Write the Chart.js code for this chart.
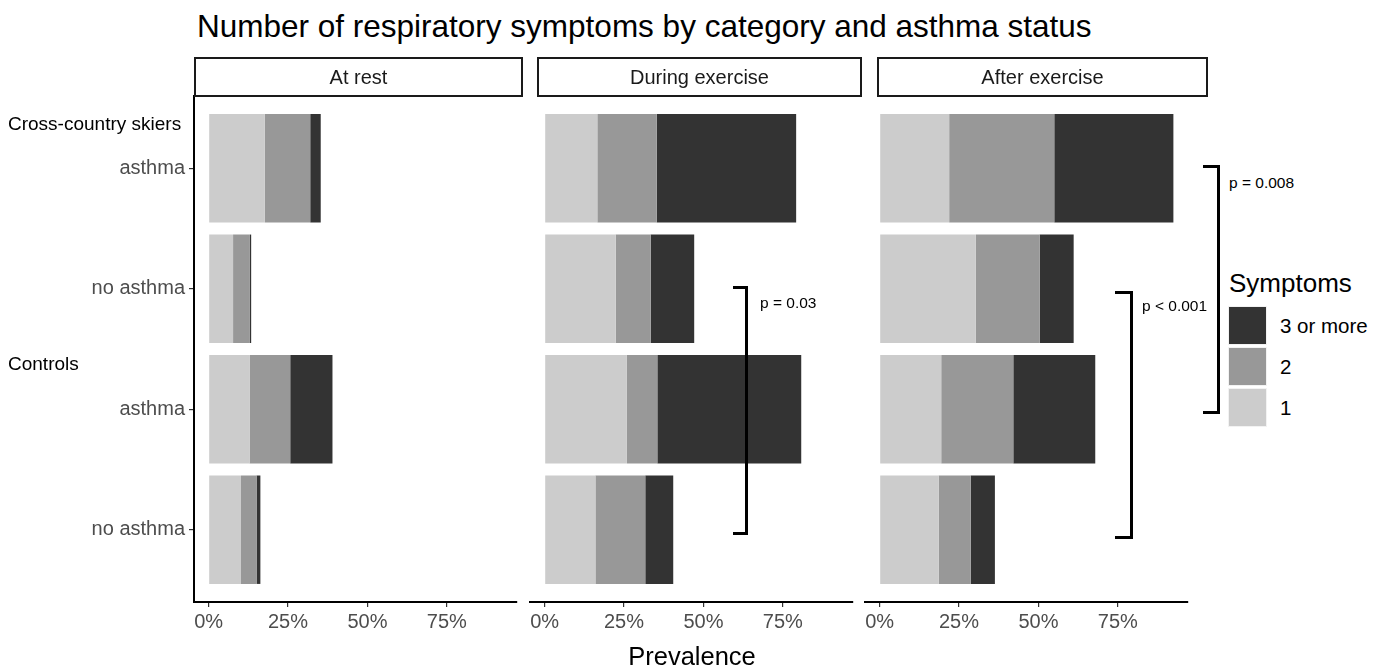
<!DOCTYPE html>
<html>
<head>
<meta charset="utf-8">
<script src="https://cdn.jsdelivr.net/npm/chart.js@4.4.1/dist/chart.umd.min.js"></script>
<style>
  body { margin: 0; background: #fff; font-family: "Liberation Sans", Arial, sans-serif; }
  #wrap { position: relative; width: 1386px; height: 668px; overflow: hidden; }
  canvas { position: absolute; }
  .txt { position: absolute; white-space: nowrap; line-height: 1; }
  .strip { position: absolute; box-sizing: border-box; border: 2px solid #1a1a1a; color: #1a1a1a;
           font-size: 20px; display: flex; align-items: center; justify-content: center; }
  .bracket { position: absolute; box-sizing: border-box; border: 3px solid #000; border-left: none; }
  .key { position: absolute; box-sizing: border-box; width: 39px; height: 39px; border: 1.5px solid #f2f2f2; }
</style>
</head>
<body>
<div id="wrap">
  <canvas id="c0"></canvas>
  <canvas id="c1"></canvas>
  <canvas id="c2"></canvas>
</div>
<script>
// facets, rows and legend levels
const panelTitles = ["At rest", "During exercise", "After exercise"];
const groupLabels = ["Cross-country skiers", "Controls"];
const rowLabels = ["asthma", "no asthma", "asthma", "no asthma"];
const symptomLevels = ["1", "2", "3 or more"];
const xTicks = [0, 25, 50, 75];

// prevalence (%) per row
const restOne = [17.7, 7.7, 12.9, 10.2];
const restTwo = [14.3, 5.3, 12.8, 4.9];
const restThree = [3.3, 0.4, 13.3, 1.2];

const duringOne = [16.6, 22.4, 25.9, 16.0];
const duringTwo = [18.7, 11.0, 9.6, 15.7];
const duringThree = [43.9, 13.7, 45.3, 8.8];

const afterOne = [21.9, 30.3, 19.4, 18.6];
const afterTwo = [33.1, 20.1, 22.7, 10.1];
const afterThree = [37.5, 10.7, 25.8, 7.6];

const pLabels = ["p = 0.03", "p < 0.001", "p = 0.008"];

const fills = ["#cccccc", "#989898", "#333333"];
const FONT = "'Liberation Sans', Arial, sans-serif";

const panelSeries = [
  [restOne, restTwo, restThree],
  [duringOne, duringTwo, duringThree],
  [afterOne, afterTwo, afterThree],
];

// canvas placement: chart areas end up at x 194/530/865, y 96..602
const canvasLeft = [0, 510, 845];
const canvasWidth = [530, 356, 356];
const CANVAS_TOP = 90;
const CANVAS_H = 552;

const wrap = document.getElementById("wrap");

function addText(text, left, centerY, size, color, extra) {
  const d = document.createElement("div");
  d.className = "txt";
  d.textContent = text;
  d.style.left = left + "px";
  d.style.top = (centerY - size * 0.5) + "px";
  d.style.fontSize = size + "px";
  d.style.color = color;
  if (extra) Object.assign(d.style, extra);
  wrap.appendChild(d);
  return d;
}

panelSeries.forEach((series, p) => {
  const showY = p === 0;
  const canvas = document.getElementById("c" + p);
  canvas.width = canvasWidth[p];
  canvas.height = CANVAS_H;
  canvas.style.left = canvasLeft[p] + "px";
  canvas.style.top = CANVAS_TOP + "px";

  new Chart(canvas.getContext("2d"), {
    type: "bar",
    data: {
      datasets: series.map((vals, i) => ({
        label: symptomLevels[i],
        data: vals.map((v, j) => ({ x: v, y: j + 1 })),
        backgroundColor: fills[i],
        borderWidth: 0,
        categoryPercentage: 0.9,
        barPercentage: 1,
      })),
    },
    options: {
      indexAxis: "y",
      responsive: false,
      animation: false,
      layout: { padding: { left: showY ? 0 : 20, right: 13, top: 6, bottom: 0 } },
      plugins: { legend: { display: false }, tooltip: { enabled: false } },
      scales: {
        x: {
          type: "linear",
          stacked: true,
          min: -4.6,
          max: 97.1,
          afterBuildTicks: (s) => { s.ticks = xTicks.map((v) => ({ value: v })); },
          afterFit: (s) => { s.height = 40; s.paddingLeft = 0; s.paddingRight = 0; },
          ticks: {
            callback: (v) => v + "%",
            color: "#4d4d4d",
            font: { size: 20, family: FONT },
            padding: 3,
            maxRotation: 0,
            autoSkip: false,
          },
          grid: { drawOnChartArea: false, tickLength: 5, color: "#333333", lineWidth: 1.2 },
          border: { color: "#000", width: 2 },
        },
        y: {
          type: "linear",
          stacked: true,
          reverse: true,
          offset: false,
          min: 0.4,
          max: 4.6,
          display: showY,
          afterBuildTicks: (s) => { s.ticks = rowLabels.map((_, i) => ({ value: i + 1 })); },
          afterFit: (s) => {
            s.width = showY ? 194 : 0;
            s.paddingTop = 0;
            s.paddingBottom = 0;
          },
          ticks: {
            callback: (v) => rowLabels[v - 1],
            color: "#4d4d4d",
            font: { size: 20, family: FONT },
            padding: 4,
            autoSkip: false,
          },
          grid: { offset: false, drawOnChartArea: false, tickLength: 5, color: "#333333", lineWidth: 1.2 },
          border: { color: "#000", width: 2 },
        },
      },
    },
  });
});

// title
addText("Number of respiratory symptoms by category and asthma status", 197, 27, 31.5, "#000");

// facet strips (they sit a little right of the panels in the original)
const stripLeft = [194, 537, 877];
const stripRight = [523, 862, 1208];
panelTitles.forEach((t, i) => {
  const s = document.createElement("div");
  s.className = "strip";
  s.textContent = t;
  s.style.left = stripLeft[i] + "px";
  s.style.top = "57px";
  s.style.width = (stripRight[i] - stripLeft[i]) + "px";
  s.style.height = "40px";
  wrap.appendChild(s);
});

// group labels on the y axis
addText(groupLabels[0], 8, 123, 19, "#000");
addText(groupLabels[1], 8, 363, 19, "#000");

// x axis title
addText("Prevalence", 692, 657, 25.5, "#000", { transform: "translateX(-50%)" });

// significance brackets
const brackets = [
  { left: 733, top: 286, right: 748, bottom: 535, tx: 760, ty: 303 },
  { left: 1115, top: 291, right: 1133, bottom: 539, tx: 1142, ty: 306 },
  { left: 1203, top: 165, right: 1220, bottom: 414, tx: 1229, ty: 183 },
];
brackets.forEach((b, i) => {
  const d = document.createElement("div");
  d.className = "bracket";
  d.style.left = b.left + "px";
  d.style.top = b.top + "px";
  d.style.width = (b.right - b.left) + "px";
  d.style.height = (b.bottom - b.top) + "px";
  wrap.appendChild(d);
  addText(pLabels[i], b.tx, b.ty, 15.5, "#000");
});

// legend
addText("Symptoms", 1229, 283, 26, "#000");
const legendOrder = [2, 1, 0];
legendOrder.forEach((lvl, k) => {
  const top = 306 + k * 41;
  const key = document.createElement("div");
  key.className = "key";
  key.style.left = "1228px";
  key.style.top = top + "px";
  key.style.background = fills[lvl];
  wrap.appendChild(key);
  addText(symptomLevels[lvl], 1280, top + 20, 20.5, "#000");
});
</script>
</body>
</html>
